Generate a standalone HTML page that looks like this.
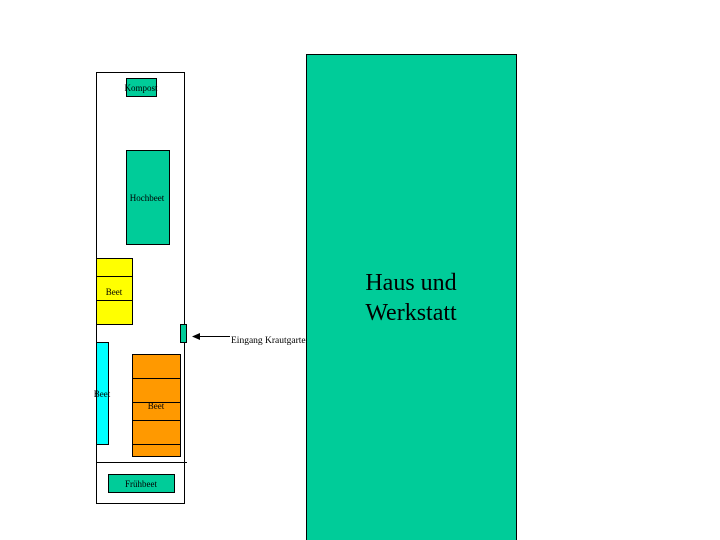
<!DOCTYPE html>
<html><head><meta charset="utf-8"><style>
html,body{margin:0;padding:0;background:#fff;width:720px;height:540px;overflow:hidden}
svg{display:block}
text{font-family:"Liberation Serif",serif;fill:#000}
</style></head><body>
<svg width="720" height="540" viewBox="0 0 720 540" xmlns="http://www.w3.org/2000/svg">
<g stroke="#000" stroke-width="1">
<rect x="96.5" y="72.5" width="88" height="431" fill="#fff"/>
<rect x="126.5" y="78.5" width="30" height="18" fill="#00CC99"/>
<rect x="126.5" y="150.5" width="43" height="94" fill="#00CC99"/>
<rect x="96.5" y="258.5" width="36" height="66" fill="#FFFF00"/>
<line x1="96" y1="276.5" x2="132" y2="276.5"/>
<line x1="96" y1="300.5" x2="132" y2="300.5"/>
<rect x="96.5" y="342.5" width="12" height="102" fill="#00FFFF"/>
<rect x="132.5" y="354.5" width="48" height="102" fill="#FF9900"/>
<line x1="132" y1="378.5" x2="180" y2="378.5"/>
<line x1="132" y1="402.5" x2="180" y2="402.5"/>
<line x1="132" y1="420.5" x2="180" y2="420.5"/>
<line x1="132" y1="444.5" x2="180" y2="444.5"/>
<line x1="96" y1="462.5" x2="187" y2="462.5"/>
<rect x="108.5" y="474.5" width="66" height="18" fill="#00CC99"/>
<rect x="180.5" y="324.5" width="6" height="18" fill="#00CC99"/>
<line x1="196" y1="336.5" x2="230" y2="336.5"/>
</g>
<polygon points="192,336.5 200,333 200,340" fill="#000"/>
<text x="141" y="91" font-size="9" text-anchor="middle">Kompost</text>
<text x="147" y="201" font-size="9" text-anchor="middle">Hochbeet</text>
<text x="114" y="295" font-size="9" text-anchor="middle">Beet</text>
<text x="102" y="397" font-size="9" text-anchor="middle">Beet</text>
<text x="156" y="409" font-size="9" text-anchor="middle">Beet</text>
<text x="141" y="487" font-size="9" text-anchor="middle">Frühbeet</text>
<text x="231" y="343" font-size="9.5">Eingang Krautgarten</text>
<rect x="306.5" y="54.5" width="210" height="500" fill="#00CC99" stroke="#000" stroke-width="1"/>
<text x="411" y="290" font-size="24" text-anchor="middle">Haus und</text>
<text x="411" y="320" font-size="24" text-anchor="middle">Werkstatt</text>
</svg>
</body></html>
